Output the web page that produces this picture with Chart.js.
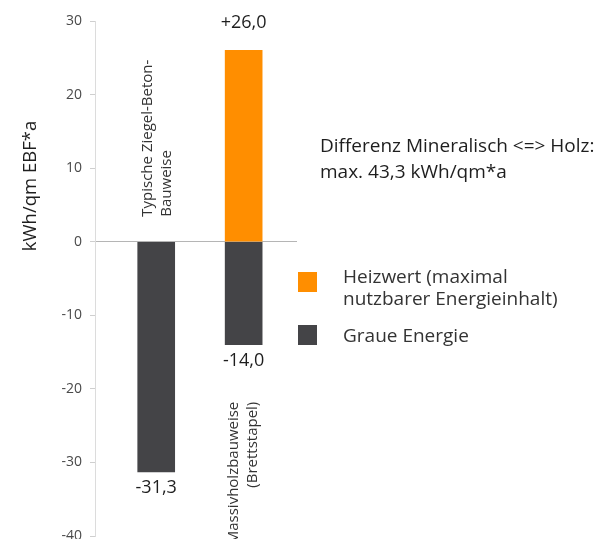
<!DOCTYPE html>
<html>
<head>
<meta charset="utf-8">
<script src="https://cdn.jsdelivr.net/npm/chart.js@4"></script>
<style>
  body { margin: 0; background: #fff; }
  canvas { display: block; }
</style>
</head>
<body>
<canvas id="chart" width="603" height="539"></canvas>
<script>
  // data
  let categories = [["Typische Ziegel-Beton-", "Bauweise"], ["Massivholzbauweise", "(Brettstapel)"]];
  let graueEnergie = [-31.3, -14.0];
  let heizwert = [null, 26.0];
  let yMin = -40;
  let yMax = 30;
  let yStep = 10;
  let yTitle = "kWh/qm EBF*a";
  let noteLines = ["Differenz Mineralisch <=> Holz:", "max. 43,3 kWh/qm*a"];
  let legendLabels = [["Heizwert (maximal", "nutzbarer Energieinhalt)"], ["Graue Energie"]];

  let orange = "#ff8e00";
  let grey = "#444447";
  let fontName = "'Open Sans', sans-serif";

  function toPoints(values){
    return values.map(function (v, i){
      return { x: i + 1, y: v };
    });
  }

  function formatValue(v){
    let s = Math.abs(v).toFixed(1).replace(".", ",");
    return (v > 0 ? "+" : "-") + s;
  }

  // value labels, rotated category labels, title, note, legend
  let extras = {
    id: "extras",
    afterDatasetsDraw(chart){
      let ctx = chart.ctx;
      let yScale = chart.scales.y;
      let zero = yScale.getPixelForValue(0);
      ctx.save();

      // value labels
      ctx.fillStyle = "#1e1e1e";
      ctx.font = "18px " + fontName;
      ctx.textAlign = "center";
      ctx.textBaseline = "middle";
      chart.data.datasets.forEach(function (ds, di){
        let meta = chart.getDatasetMeta(di);
        meta.data.forEach(function (bar, i){
          let v = ds.data[i].y;
          if (v === null) return;
          let y = v > 0 ? bar.y - 28 : bar.y + 16;
          ctx.fillText(formatValue(v), bar.x, y);
        });
      });

      // category labels
      let greyMeta = chart.getDatasetMeta(1);
      ctx.font = "15px " + fontName;
      ctx.fillStyle = "#333";
      categories.forEach(function (lines, i){
        let bar = greyMeta.data[i];
        ctx.save();
        if (i === 0){
          ctx.translate(bar.x - 8, zero - 25);
          ctx.rotate(-Math.PI / 2);
          ctx.textAlign = "left";
        } else {
          ctx.translate(bar.x - 10, bar.y + 57);
          ctx.rotate(-Math.PI / 2);
          ctx.textAlign = "right";
        }
        lines.forEach(function (t, k){
          ctx.fillText(t, 0, k * 19);
        });
        ctx.restore();
      });

      // y axis title
      ctx.save();
      ctx.font = "18.5px " + fontName;
      ctx.fillStyle = "#1e1e1e";
      ctx.translate(31, 186);
      ctx.rotate(-Math.PI / 2);
      ctx.textAlign = "center";
      ctx.fillText(yTitle, 0, 0);
      ctx.restore();

      // note
      ctx.font = "19px " + fontName;
      ctx.fillStyle = "#1e1e1e";
      ctx.textAlign = "left";
      ctx.fillText(noteLines[0], 320, 147);
      ctx.fillText(noteLines[1], 320, 173);

      // legend
      let colors = [orange, grey];
      let tops = [272, 325];
      ctx.font = "19px " + fontName;
      legendLabels.forEach(function (lines, i){
        ctx.fillStyle = colors[i];
        ctx.fillRect(298, tops[i], 19, 20);
        ctx.fillStyle = "#333";
        lines.forEach(function (t, k){
          ctx.fillText(t, 343, tops[i] + (i === 0 ? 6 : 12) + k * 22);
        });
      });

      ctx.restore();
    }
  };

  let chart = new Chart(document.getElementById("chart"), {
    type: "bar",
    data: {
      datasets: [
        { label: legendLabels[0].join(" "), data: toPoints(heizwert), backgroundColor: orange, grouped: false, barThickness: 37 },
        { label: legendLabels[1].join(" "), data: toPoints(graueEnergie), backgroundColor: grey, grouped: false, barThickness: 37 }
      ]
    },
    options: {
      responsive: false,
      animation: false,
      layout: { padding: { top: 21, right: 306, bottom: 3, left: 0 } },
      plugins: {
        legend: { display: false },
        tooltip: { enabled: false }
      },
      scales: {
        x: {
          type: "linear",
          display: false,
          offset: false,
          min: 0.3,
          max: 2.61
        },
        y: {
          min: yMin,
          max: yMax,
          afterFit(scale){
            scale.width = 95;
            scale.paddingTop = 0;
            scale.paddingBottom = 0;
          },
          border: { display: true, color: "#dcdcdc" },
          grid: {
            drawOnChartArea: true,
            tickLength: 5,
            tickColor: "#cfcfcf",
            color: function (c){ return c.tick && c.tick.value === 0 ? "#b5b5b5" : "rgba(0,0,0,0)"; }
          },
          ticks: {
            stepSize: yStep,
            padding: 8,
            color: "#4a4a4a",
            font: { family: "'Open Sans', sans-serif", size: 14 }
          }
        }
      }
    },
    plugins: [extras]
  });
</script>
</body>
</html>
